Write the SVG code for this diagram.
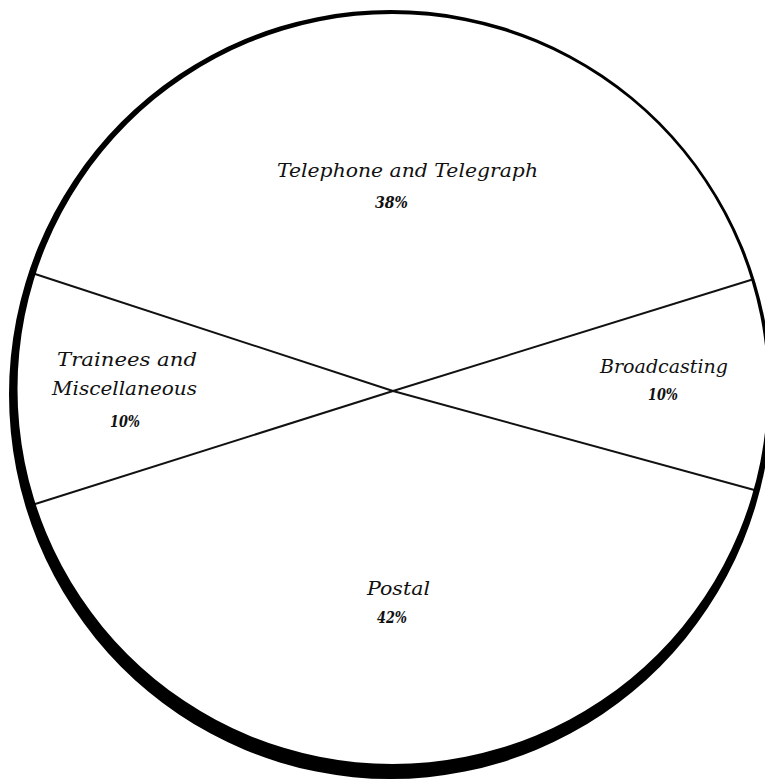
<svg xmlns="http://www.w3.org/2000/svg" width="765" height="780" viewBox="0 0 765 780">
<style>
.lbl{font-family:"DejaVu Serif","Liberation Serif",serif;font-style:italic;font-size:19px;fill:#111}
.pct{font-family:"DejaVu Serif","Liberation Serif",serif;font-style:italic;font-weight:bold;font-size:16px;fill:#111}
.div{stroke:#111;stroke-width:2;fill:none}
</style>
<rect width="765" height="780" fill="#fff"/>
<g id="connectors">
<line class="div" x1="393" y1="391" x2="32" y2="273"/>
<line class="div" x1="393" y1="391" x2="32" y2="505"/>
<line class="div" x1="393" y1="391" x2="754" y2="279"/>
<line class="div" x1="393" y1="391" x2="758" y2="491"/>
</g>
<g id="rim">
<path fill="#000" fill-rule="evenodd" d="M9,394.5 a381.5,384.5 0 1,0 763,0 a381.5,384.5 0 1,0 -763,0 Z M17.5,389 a375,375 0 1,0 750,0 a375,375 0 1,0 -750,0 Z"/>
</g>
<g id="telephone">
<text class="lbl" x="277" y="177" textLength="261" lengthAdjust="spacingAndGlyphs">Telephone and Telegraph</text>
<text class="pct" x="375" y="208" textLength="33" lengthAdjust="spacingAndGlyphs">38%</text>
</g>
<g id="trainees">
<text class="lbl" x="57" y="366" textLength="140" lengthAdjust="spacingAndGlyphs">Trainees and</text>
<text class="lbl" x="52" y="395" textLength="145" lengthAdjust="spacingAndGlyphs">Miscellaneous</text>
<text class="pct" x="110" y="427" textLength="30" lengthAdjust="spacingAndGlyphs">10%</text>
</g>
<g id="broadcasting">
<text class="lbl" x="600" y="373" textLength="128" lengthAdjust="spacingAndGlyphs">Broadcasting</text>
<text class="pct" x="648" y="400" textLength="30" lengthAdjust="spacingAndGlyphs">10%</text>
</g>
<g id="postal">
<text class="lbl" x="367" y="595" textLength="63" lengthAdjust="spacingAndGlyphs">Postal</text>
<text class="pct" x="377" y="623" textLength="30" lengthAdjust="spacingAndGlyphs">42%</text>
</g>
</svg>
